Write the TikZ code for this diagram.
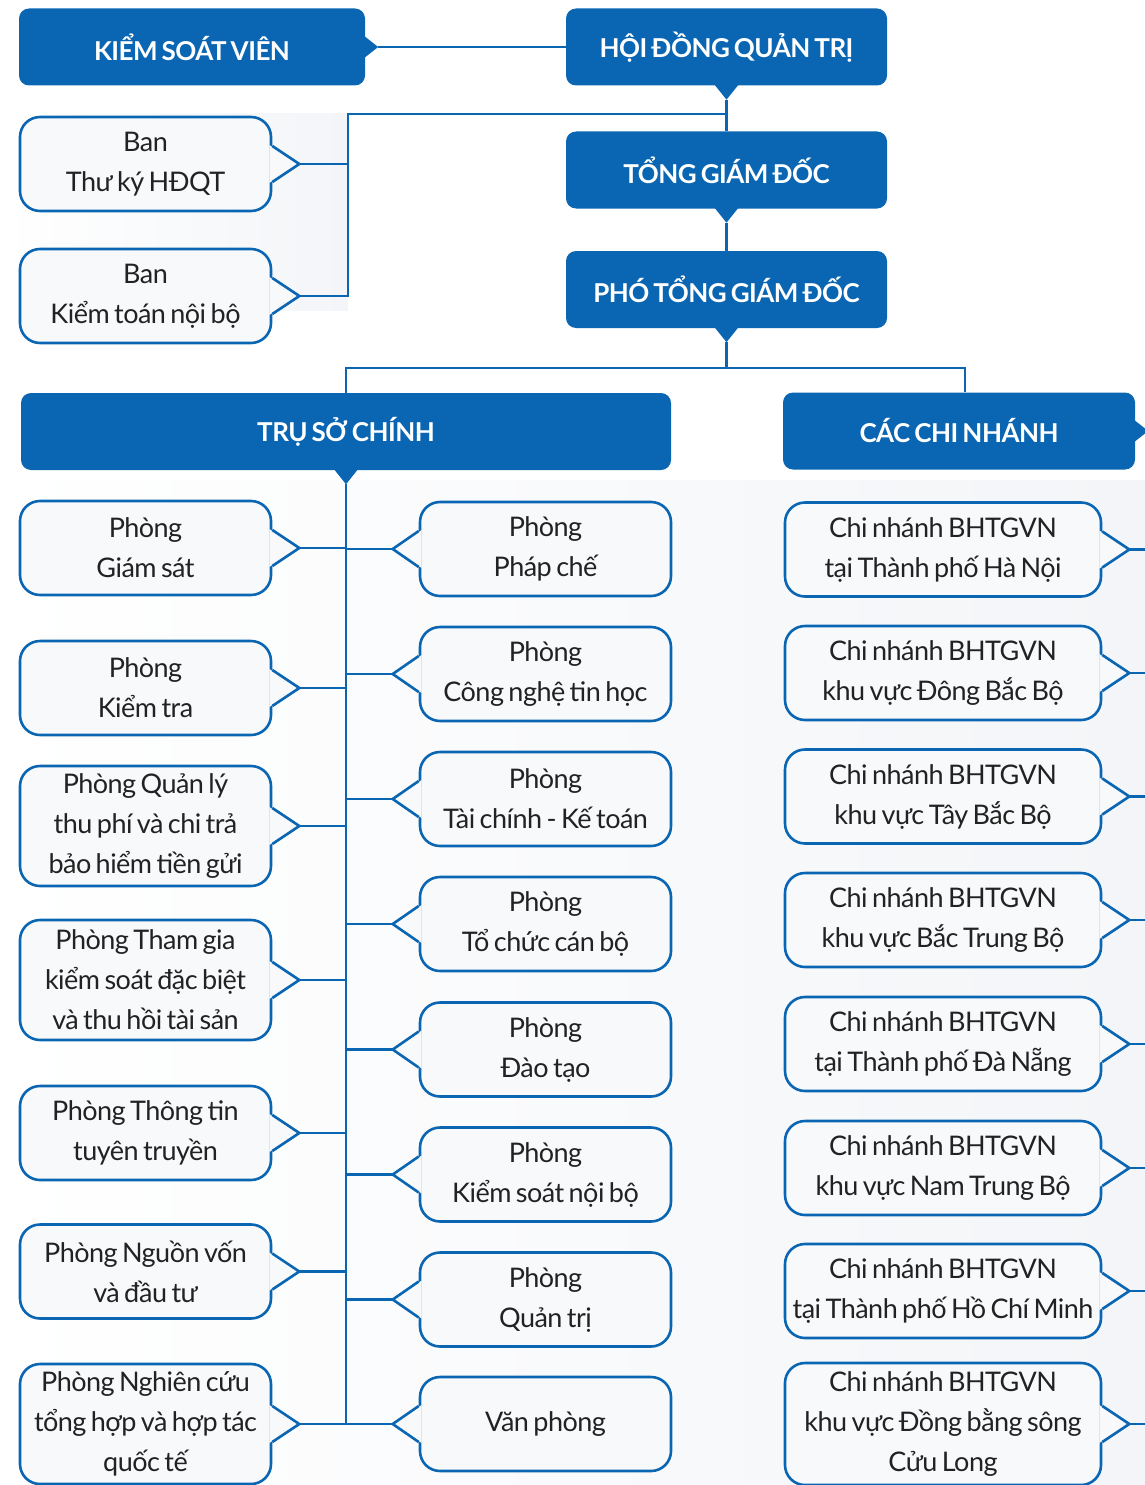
\documentclass[tikz,border=0pt]{standalone}
\usepackage{fontspec}
\setmainfont{Lato}[LetterSpace=-2,WordSpace=0.7]
\definecolor{bhblue}{HTML}{0A66B2}
\definecolor{cardfill}{HTML}{F8F9FB}
\definecolor{panel}{HTML}{F3F5F8}
\definecolor{ink}{HTML}{222222}

% tab of a card, pointing right or left
\newcommand\tabright[1]{%
  \fill[cardfill] ([xshift=-3pt,yshift=19pt]#1.east) -- ([xshift=27pt]#1.east)
    -- ([xshift=-3pt,yshift=-19pt]#1.east) -- cycle;
  \draw[link] ([yshift=18pt]#1.east) -- ([xshift=27pt]#1.east) coordinate (#1-tip)
    -- ([yshift=-18pt]#1.east);}
\newcommand\tableft[1]{%
  \fill[cardfill] ([xshift=3pt,yshift=19pt]#1.west) -- ([xshift=-26pt]#1.west)
    -- ([xshift=3pt,yshift=-19pt]#1.west) -- cycle;
  \draw[link] ([yshift=18pt]#1.west) -- ([xshift=-26pt]#1.west) coordinate (#1-tip)
    -- ([yshift=-18pt]#1.west);}
% small notch of a blue heading
\newcommand\headdown[1]{%
  \fill[bhblue] ([xshift=-12pt,yshift=1pt]#1.south) -- ([yshift=-14pt]#1.south) coordinate (#1-tip)
    -- ([xshift=12pt,yshift=1pt]#1.south) -- cycle;}
\newcommand\headright[1]{%
  \fill[bhblue] ([xshift=-1pt,yshift=11pt]#1.east) -- ([xshift=13pt]#1.east) coordinate (#1-tip)
    -- ([xshift=-1pt,yshift=-11pt]#1.east) -- cycle;}

\begin{document}
\begin{tikzpicture}[x=1pt,y=-1pt,
    head/.style={fill=bhblue,text=white,rounded corners=10pt,minimum height=77pt,
      inner sep=0pt,font=\fontsize{26pt}{30pt}\selectfont\bfseries},
    card/.style={draw=bhblue,line width=2.6pt,fill=cardfill,rounded corners=20pt,
      minimum width=251pt,minimum height=94pt,inner sep=0pt,align=center,text=ink,
      font=\fontsize{27pt}{40pt}\selectfont},
    branch/.style={card,minimum width=316pt},
    link/.style={draw=bhblue,line width=2.6pt}
  ]
  \useasboundingbox (0,0) rectangle (1145,1485);
  \shade[left color=white,right color=panel] (0,114) rectangle (348,310);
  \shade[left color=white,right color=panel] (0,480) rectangle (1145,1485);

  \node[head,minimum width=346pt] (ksv) at (192,47) {KIỂM SOÁT VIÊN};
  \node[head,minimum width=321pt] (hdqt) at (726.5,47) {HỘI ĐỒNG QUẢN TRỊ};
  \node[head,minimum width=321pt] (tgd) at (726.5,170) {TỔNG GIÁM ĐỐC};
  \node[head,minimum width=321pt] (ptgd) at (726.5,289.5) {PHÓ TỔNG GIÁM ĐỐC};
  \node[head,minimum width=650pt] (tsc) at (346,431.5) {TRỤ SỞ CHÍNH};
  \node[head,minimum width=352pt] (ccn) at (959,431) {CÁC CHI NHÁNH};
  \headright{ksv}
  \headdown{hdqt}
  \headdown{tgd}
  \headdown{ptgd}
  \headdown{tsc}
  \headright{ccn}

  \node[card] (btk) at (145.5,164) {Ban\\Thư ký HĐQT};
  \node[card] (bkt) at (145.5,296) {Ban\\Kiểm toán nội bộ};

  \node[card] (gs) at (145.5,548) {Phòng\\Giám sát};
  \node[card] (kt) at (145.5,688) {Phòng\\Kiểm tra};
  \node[card,minimum height=120pt] (ql) at (145.5,826) {Phòng Quản lý\\thu phí và chi trả\\bảo hiểm tiền gửi};
  \node[card,minimum height=120pt] (tg) at (145.5,980) {Phòng Tham gia\\kiểm soát đặc biệt\\và thu hồi tài sản};
  \node[card] (tt) at (145.5,1133) {Phòng Thông tin\\tuyên truyền};
  \node[card] (nv) at (145.5,1271.5) {Phòng Nguồn vốn\\và đầu tư};
  \node[card,minimum height=120pt] (nc) at (145.5,1424) {Phòng Nghiên cứu\\tổng hợp và hợp tác\\quốc tế};

  \node[card] (pc) at (545.5,549) {Phòng\\Pháp chế};
  \node[card] (cn) at (545.5,674) {Phòng\\Công nghệ tin học};
  \node[card] (tc) at (545.5,799) {Phòng\\Tài chính - Kế toán};
  \node[card] (tccb) at (545.5,924) {Phòng\\Tổ chức cán bộ};
  \node[card] (dt) at (545.5,1049.5) {Phòng\\Đào tạo};
  \node[card] (ksnb) at (545.5,1174.5) {Phòng\\Kiểm soát nội bộ};
  \node[card] (qt) at (545.5,1299.5) {Phòng\\Quản trị};
  \node[card] (vp) at (545.5,1424) {Văn phòng};

  \node[branch] (hn) at (943,549.5) {Chi nhánh BHTGVN\\tại Thành phố Hà Nội};
  \node[branch] (dbb) at (943,673) {Chi nhánh BHTGVN\\khu vực Đông Bắc Bộ};
  \node[branch] (tbb) at (943,796.5) {Chi nhánh BHTGVN\\khu vực Tây Bắc Bộ};
  \node[branch] (btb) at (943,920) {Chi nhánh BHTGVN\\khu vực Bắc Trung Bộ};
  \node[branch] (dn) at (943,1044) {Chi nhánh BHTGVN\\tại Thành phố Đà Nẵng};
  \node[branch] (ntb) at (943,1168) {Chi nhánh BHTGVN\\khu vực Nam Trung Bộ};
  \node[branch] (hcm) at (943,1291) {Chi nhánh BHTGVN\\tại Thành phố Hồ Chí Minh};
  \node[branch,minimum height=122pt] (dbscl) at (943,1424) {Chi nhánh BHTGVN\\khu vực Đồng bằng sông\\Cửu Long};

  \foreach \n in {btk,bkt,gs,kt,ql,tg,tt,nv,nc,hn,dbb,tbb,btb,dn,ntb,hcm,dbscl}
    {\tabright{\n}}
  \foreach \n in {pc,cn,tc,tccb,dt,ksnb,qt,vp}
    {\tableft{\n}}

  % top part
  \coordinate (bj) at (348,114);
  \coordinate (split) at (726.5,368);
  \draw[link] (ksv-tip) -- (hdqt.west);
  \draw[link] (hdqt-tip) -- (tgd.north);
  \draw[link] (tgd-tip) -- (ptgd.north);
  \draw[link] (ptgd-tip) -- (split);
  \draw[link] (tsc.north) |- (split) -| ([xshift=6pt]ccn.north);
  \draw[link] (btk-tip) -- (btk-tip -| bj);
  \draw[link] (bkt-tip) -- (bkt-tip -| bj) |- (hdqt-tip |- bj);

  % head office
  \draw[link] (tsc-tip) -- (tsc-tip |- vp-tip);
  \foreach \n in {gs,kt,ql,tg,tt,nv,nc,pc,cn,tc,tccb,dt,ksnb,qt,vp}
    {\draw[link] (\n-tip) -- (\n-tip -| tsc-tip);}

  % branches
  \coordinate (edge) at (1150,0);
  \foreach \n in {hn,dbb,tbb,btb,dn,ntb,hcm,dbscl}
    {\draw[link] (\n-tip) -- (\n-tip -| edge);}
\end{tikzpicture}
\end{document}
